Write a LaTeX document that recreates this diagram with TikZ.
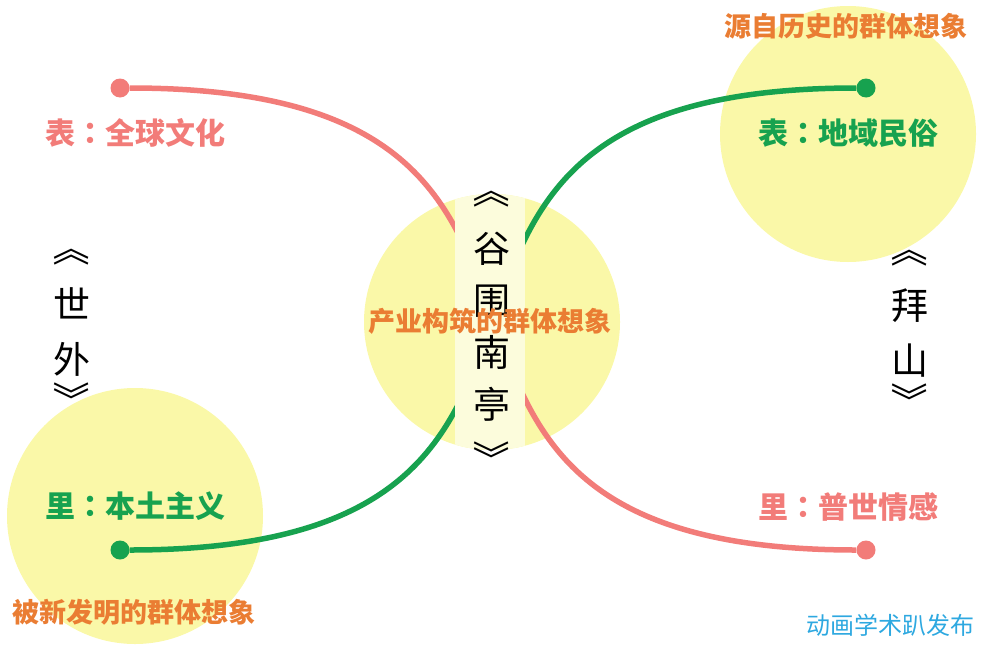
\documentclass[tikz,border=0pt]{standalone}
\usepackage{fontspec}
\setmainfont{Noto Sans CJK SC}
\newfontfamily\colonfont{Noto Sans CJK TC}
\newcommand\cc{{\colonfont ：}}
\newcommand\upq{\rotatebox[origin=c]{-90}{《}}
\newcommand\downq{\rotatebox[origin=c]{-90}{》}}
\definecolor{blobyellow}{HTML}{FAF8A8}
\definecolor{bandpale}{HTML}{FCFCDC}
\definecolor{linkpink}{HTML}{F27C79}
\definecolor{linkgreen}{HTML}{17A24F}
\definecolor{themeorange}{HTML}{EA7D33}
\definecolor{signblue}{HTML}{2DA8E0}
\begin{document}
\begin{tikzpicture}[x=1pt, y=-1pt,
    blob/.style={circle, fill=blobyellow, minimum size=256pt, inner sep=0pt},
    knob/.style={circle, fill=#1, minimum size=19pt, inner sep=0pt},
    link/.style={#1, line width=5.5pt},
    tag/.style={font=\fontsize{30}{32}\selectfont\bfseries, text=#1, inner sep=0pt},
    theme/.style={font=\fontsize{27}{30}\selectfont\bfseries, text=themeorange, inner sep=0pt},
    vtitle/.style={font=\fontsize{37}{#1}\selectfont, align=center, inner sep=0pt}]
    \useasboundingbox (0,0) rectangle (984,648);
    \node[blob] (hub) at (492,322) {};
    \node[blob] (hist) at (848,134) {};
    \node[blob] (invent) at (135,516) {};
    \node[knob=linkpink] (globe) at (120,88) {};   % outer side, left
    \node[knob=linkgreen] (folk) at (866,88) {};   % outer side, right
    \node[knob=linkgreen] (native) at (120,550) {}; % inner side, left
    \node[knob=linkpink] (feel) at (866,550) {};    % inner side, right
    \draw[link=linkpink] (globe) .. controls (693,88) and (293,550) .. (feel);
    \draw[link=linkgreen] (folk) .. controls (293,88) and (693,550) .. (native);
    \begin{scope}
        \clip (hub.center) circle (128pt);
        \fill[bandpale] (455,180) rectangle (525,465); % pale strip behind the title
    \end{scope}
    \node[vtitle=52] (gu) at (492,324) {\upq\\[7pt]谷\\围\\南\\亭\\[2pt]\downq};
    \node[vtitle=55] (shiwai) at (72,324) {\upq\\[1pt]世\\外\\[-14pt]\downq};
    \node[vtitle=55] (baishan) at (910,325) {\upq\\[1pt]拜\\山\\[-14pt]\downq};
    \node[theme] (build) at (490,321) {产业构筑的群体想象};
    \node[theme] (source) at (846,26) {源自历史的群体想象};
    \node[theme] (newly) at (134,612) {被新发明的群体想象};
    \node[tag=linkpink] (globel) at (135,133) {表\cc 全球文化};
    \node[tag=linkgreen] (folkl) at (848,133) {表\cc 地域民俗};
    \node[tag=linkgreen] (nativel) at (135,506) {里\cc 本土主义};
    \node[tag=linkpink] (feell) at (848,507) {里\cc 普世情感};
    \node[font=\fontsize{24}{26}\selectfont, text=signblue, inner sep=0pt] (sign) at (890,625) {动画学术趴发布};
\end{tikzpicture}
\end{document}
